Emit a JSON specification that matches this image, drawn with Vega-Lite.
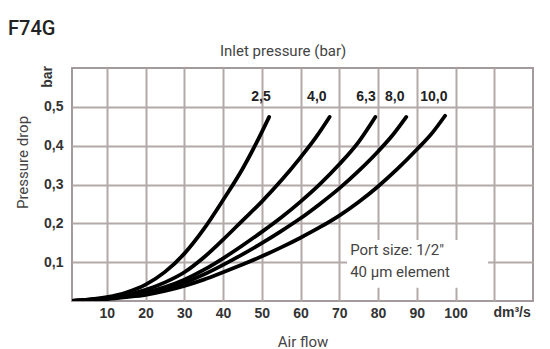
{
  "$schema": "https://vega.github.io/schema/vega-lite/v6.json",
  "autosize": {"type": "none"},
  "padding": {"left": 72, "top": 68, "right": 17, "bottom": 48},
  "width": 461,
  "height": 233,
  "background": "white",
  "title": {"text": "F74G", "anchor": "start", "frame": "group", "dx": -64, "offset": 5, "font": "Roboto", "fontSize": 20, "fontWeight": 500, "color": "#222222"},
  "config": {
    "view": {"stroke": "#a39b9b", "strokeWidth": 2},
    "axis": {"grid": true, "gridColor": "#b3a9a9", "gridWidth": 2, "ticks": false, "domain": false, "labelFont": "Liberation Sans", "labelFontWeight": "bold", "labelFontSize": 14, "labelColor": "#333333", "titleFont": "Roboto", "titleFontWeight": "normal", "titleFontSize": 15, "titleColor": "#444444"}
  },
  "datasets": {
    "curves": [
      {"p": "2,5", "q": 1, "dp": 0}, {"p": "2,5", "q": 10, "dp": 0.01}, {"p": "2,5", "q": 15, "dp": 0.022}, {"p": "2,5", "q": 20, "dp": 0.042}, {"p": "2,5", "q": 25, "dp": 0.075}, {"p": "2,5", "q": 30, "dp": 0.122}, {"p": "2,5", "q": 35, "dp": 0.185}, {"p": "2,5", "q": 40, "dp": 0.26}, {"p": "2,5", "q": 45, "dp": 0.34}, {"p": "2,5", "q": 48.5, "dp": 0.405}, {"p": "2,5", "q": 51.9, "dp": 0.474},
      {"p": "4,0", "q": 1, "dp": 0}, {"p": "4,0", "q": 10, "dp": 0.008}, {"p": "4,0", "q": 15, "dp": 0.016}, {"p": "4,0", "q": 20, "dp": 0.029}, {"p": "4,0", "q": 25, "dp": 0.048}, {"p": "4,0", "q": 30, "dp": 0.074}, {"p": "4,0", "q": 35, "dp": 0.112}, {"p": "4,0", "q": 40, "dp": 0.158}, {"p": "4,0", "q": 45, "dp": 0.207}, {"p": "4,0", "q": 50, "dp": 0.256}, {"p": "4,0", "q": 55, "dp": 0.31}, {"p": "4,0", "q": 60, "dp": 0.37}, {"p": "4,0", "q": 64, "dp": 0.422}, {"p": "4,0", "q": 67.5, "dp": 0.474},
      {"p": "6,3", "q": 1, "dp": 0}, {"p": "6,3", "q": 10, "dp": 0.007}, {"p": "6,3", "q": 15, "dp": 0.013}, {"p": "6,3", "q": 20, "dp": 0.022}, {"p": "6,3", "q": 25, "dp": 0.036}, {"p": "6,3", "q": 30, "dp": 0.055}, {"p": "6,3", "q": 35, "dp": 0.08}, {"p": "6,3", "q": 40, "dp": 0.11}, {"p": "6,3", "q": 45, "dp": 0.143}, {"p": "6,3", "q": 50, "dp": 0.178}, {"p": "6,3", "q": 55, "dp": 0.215}, {"p": "6,3", "q": 60, "dp": 0.256}, {"p": "6,3", "q": 65, "dp": 0.301}, {"p": "6,3", "q": 70, "dp": 0.352}, {"p": "6,3", "q": 75, "dp": 0.41}, {"p": "6,3", "q": 79.3, "dp": 0.474},
      {"p": "8,0", "q": 1, "dp": 0}, {"p": "8,0", "q": 10, "dp": 0.006}, {"p": "8,0", "q": 15, "dp": 0.011}, {"p": "8,0", "q": 20, "dp": 0.019}, {"p": "8,0", "q": 25, "dp": 0.031}, {"p": "8,0", "q": 30, "dp": 0.047}, {"p": "8,0", "q": 35, "dp": 0.068}, {"p": "8,0", "q": 40, "dp": 0.093}, {"p": "8,0", "q": 45, "dp": 0.12}, {"p": "8,0", "q": 50, "dp": 0.149}, {"p": "8,0", "q": 55, "dp": 0.18}, {"p": "8,0", "q": 60, "dp": 0.213}, {"p": "8,0", "q": 65, "dp": 0.25}, {"p": "8,0", "q": 70, "dp": 0.29}, {"p": "8,0", "q": 75, "dp": 0.335}, {"p": "8,0", "q": 80, "dp": 0.385}, {"p": "8,0", "q": 84, "dp": 0.43}, {"p": "8,0", "q": 87.3, "dp": 0.474},
      {"p": "10,0", "q": 1, "dp": 0}, {"p": "10,0", "q": 10, "dp": 0.005}, {"p": "10,0", "q": 15, "dp": 0.01}, {"p": "10,0", "q": 20, "dp": 0.016}, {"p": "10,0", "q": 25, "dp": 0.026}, {"p": "10,0", "q": 30, "dp": 0.039}, {"p": "10,0", "q": 35, "dp": 0.055}, {"p": "10,0", "q": 40, "dp": 0.074}, {"p": "10,0", "q": 45, "dp": 0.094}, {"p": "10,0", "q": 50, "dp": 0.115}, {"p": "10,0", "q": 55, "dp": 0.138}, {"p": "10,0", "q": 60, "dp": 0.163}, {"p": "10,0", "q": 65, "dp": 0.19}, {"p": "10,0", "q": 70, "dp": 0.22}, {"p": "10,0", "q": 75, "dp": 0.255}, {"p": "10,0", "q": 80, "dp": 0.295}, {"p": "10,0", "q": 85, "dp": 0.34}, {"p": "10,0", "q": 90, "dp": 0.39}, {"p": "10,0", "q": 94, "dp": 0.433}, {"p": "10,0", "q": 97.3, "dp": 0.477}
    ],
    "curveLabels": [
      {"p": "2,5", "q": 49.8, "dp": 0.526},
      {"p": "4,0", "q": 64.2, "dp": 0.526},
      {"p": "6,3", "q": 76.9, "dp": 0.526},
      {"p": "8,0", "q": 84.3, "dp": 0.526},
      {"p": "10,0", "q": 94.4, "dp": 0.526}
    ],
    "units": [
      {"t": "bar", "q": -5.3, "dp": 0.577, "a": 270},
      {"t": "dm³/s", "q": 114.6, "dp": -0.031, "a": 0}
    ],
    "notes": [
      {"t": "Port size: 1/2\"", "q": 72.8, "dp": 0.131},
      {"t": "40 µm element", "q": 72.8, "dp": 0.075}
    ],
    "noteBox": [{"q1": 72, "q2": 108.4, "dp1": 0.034, "dp2": 0.157}],
    "caption": [{"t": "Inlet pressure (bar)", "q": 55.5, "dp": 0.645}]
  },
  "layer": [
    {
      "data": {"name": "noteBox"},
      "mark": {"type": "rect", "fill": "white", "stroke": null},
      "encoding": {
        "x": {"field": "q1", "type": "quantitative", "scale": {"domain": [1, 120], "nice": false, "zero": false},
          "axis": {"values": [10, 20, 30, 40, 50, 60, 70, 80, 90, 100, 110], "labelExpr": "datum.value > 100 ? '' : datum.label", "labelPadding": 5, "title": "Air flow", "titleY": 40, "titleBaseline": "middle"}},
        "x2": {"field": "q2"},
        "y": {"field": "dp1", "type": "quantitative", "scale": {"domain": [0, 0.6], "nice": false},
          "axis": {"values": [0.1, 0.2, 0.3, 0.4, 0.5], "format": ".1f", "labelExpr": "replace(datum.label, '.', ',')", "labelPadding": 9, "title": "Pressure drop", "titleX": -50, "titleY": 94, "titleAngle": -90, "titleBaseline": "middle", "titleAlign": "center"}},
        "y2": {"field": "dp2"}
      }
    },
    {
      "data": {"name": "curves"},
      "mark": {"type": "line", "color": "black", "strokeWidth": 3.8, "interpolate": "monotone", "strokeCap": "round", "clip": true},
      "encoding": {
        "x": {"field": "q", "type": "quantitative"},
        "y": {"field": "dp", "type": "quantitative"},
        "detail": {"field": "p"}
      }
    },
    {
      "data": {"name": "curveLabels"},
      "mark": {"type": "text", "font": "Liberation Sans", "fontWeight": "bold", "fontSize": 14, "color": "#222222", "baseline": "middle", "align": "center"},
      "encoding": {
        "x": {"field": "q", "type": "quantitative"},
        "y": {"field": "dp", "type": "quantitative"},
        "text": {"field": "p"}
      }
    },
    {
      "data": {"name": "units"},
      "mark": {"type": "text", "font": "Liberation Sans", "fontWeight": "bold", "fontSize": 14, "color": "#333333", "baseline": "middle", "align": "center"},
      "encoding": {
        "x": {"field": "q", "type": "quantitative"},
        "y": {"field": "dp", "type": "quantitative"},
        "text": {"field": "t"},
        "angle": {"field": "a", "type": "quantitative", "scale": null}
      }
    },
    {
      "data": {"name": "notes"},
      "mark": {"type": "text", "font": "Roboto", "fontSize": 15, "color": "#444444", "baseline": "middle", "align": "left"},
      "encoding": {
        "x": {"field": "q", "type": "quantitative"},
        "y": {"field": "dp", "type": "quantitative"},
        "text": {"field": "t"}
      }
    },
    {
      "data": {"name": "caption"},
      "mark": {"type": "text", "font": "Roboto", "fontSize": 15, "color": "#444444", "baseline": "middle", "align": "center"},
      "encoding": {
        "x": {"field": "q", "type": "quantitative"},
        "y": {"field": "dp", "type": "quantitative"},
        "text": {"field": "t"}
      }
    }
  ]
}
